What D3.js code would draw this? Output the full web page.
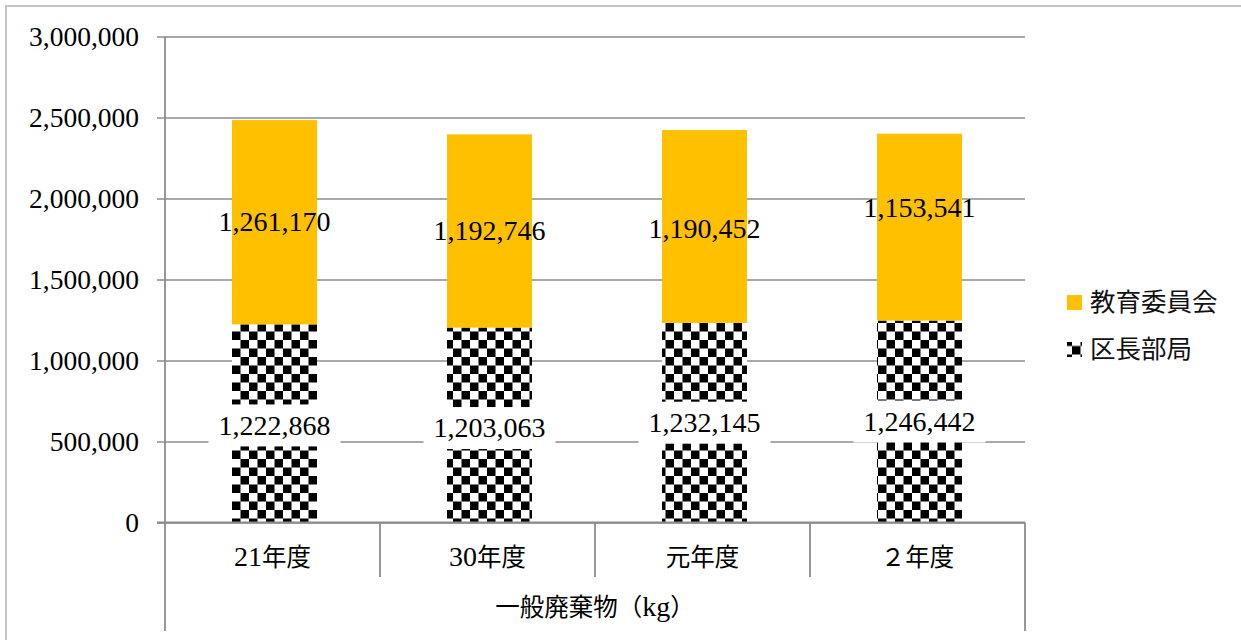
<!DOCTYPE html>
<html><head><meta charset="utf-8">
<script src="https://cdn.jsdelivr.net/npm/d3@7"></script>
<style>body{margin:0;background:#fff}svg{display:block}</style>
</head><body>
<svg id="c" width="1241" height="640"></svg>
<script>
const categories = ["21年度", "30年度", "元年度", "２年度"];
const groupLabel = "一般廃棄物（kg）";
const seriesNames = ["区長部局", "教育委員会"];
const kuchoValues = [1222868, 1203063, 1232145, 1246442];
const kyoikuValues = [1261170, 1192746, 1190452, 1153541];
const yTicks = [0, 500000, 1000000, 1500000, 2000000, 2500000, 3000000];

const svg = d3.select("#c");
const W = 1241, H = 640;
const plot = {l: 165, r: 1025, t: 36.5, b: 522.5};
const numFont = "'Liberation Serif', 'Noto Sans CJK JP', serif";
const cjkFont = "'Noto Sans CJK JP', sans-serif";
const gridCol = "#8c8c8c";
const orange = "#FFC000";

// chart border
svg.append("rect").attr("x", 6).attr("y", 6).attr("width", W).attr("height", H)
  .attr("fill", "#fff").attr("stroke", "#c4c4c4").attr("stroke-width", 2);

const defs = svg.append("defs");
function checker(id, ox, oy, s) {
  const p = defs.append("pattern").attr("id", id).attr("patternUnits", "userSpaceOnUse")
    .attr("x", ox).attr("y", oy).attr("width", 2 * s).attr("height", 2 * s);
  p.append("rect").attr("width", 2 * s).attr("height", 2 * s).attr("fill", "#fff");
  p.append("rect").attr("x", s).attr("y", 0).attr("width", s).attr("height", s).attr("fill", "#000");
  p.append("rect").attr("x", 0).attr("y", s).attr("width", s).attr("height", s).attr("fill", "#000");
}
checker("chk", 232, 323, 8.5);
checker("chkLeg", 1055, 337.5, 8.5);

const y = d3.scaleLinear().domain([0, 3000000]).range([plot.b, plot.t]);
const x = d3.scaleBand().domain(categories).range([plot.l + 2, plot.r + 2]).paddingInner(0.6047).paddingOuter(0.3023);
const xOuter = d3.scaleBand().domain(categories).range([plot.l, plot.r]);

// gridlines + y axis
const yAxis = d3.axisLeft(y).tickValues(yTicks).tickSize(plot.r - plot.l + 8)
  .tickFormat(d3.format(","));
const gy = svg.append("g").attr("transform", `translate(${plot.r},0)`).call(yAxis);
gy.select(".domain").remove();
gy.selectAll(".tick line").attr("stroke", gridCol).attr("stroke-width", 1.6);
gy.selectAll(".tick text").attr("x", -(plot.r - plot.l) - 26).attr("font-family", numFont)
  .attr("font-size", 27.5).attr("fill", "#000").attr("dy", "0.33em");

// vertical axis lines
svg.append("line").attr("x1", plot.l).attr("x2", plot.l).attr("y1", plot.t).attr("y2", 631)
  .attr("stroke", gridCol).attr("stroke-width", 1.8);
svg.append("line").attr("x1", plot.r).attr("x2", plot.r).attr("y1", plot.b).attr("y2", 631)
  .attr("stroke", gridCol).attr("stroke-width", 1.8);
// category separators
categories.slice(1).forEach(c => {
  svg.append("line").attr("x1", xOuter(c)).attr("x2", xOuter(c)).attr("y1", plot.b).attr("y2", 577)
    .attr("stroke", gridCol).attr("stroke-width", 1.8);
});

// stacked data
const rows = categories.map((c, i) => ({cat: c, "区長部局": kuchoValues[i], "教育委員会": kyoikuValues[i]}));
const stack = d3.stack().keys(seriesNames)(rows);

const bars = svg.append("g");
stack.forEach((s, si) => {
  bars.selectAll(null).data(s).join("rect")
    .attr("x", d => x(d.data.cat)).attr("width", x.bandwidth())
    .attr("y", d => y(d[1])).attr("height", d => y(d[0]) - y(d[1]))
    .attr("fill", si === 0 ? "url(#chk)" : orange);
});

// x axis line
svg.append("line").attr("x1", plot.l - 8).attr("x2", plot.r).attr("y1", plot.b).attr("y2", plot.b)
  .attr("stroke", gridCol).attr("stroke-width", 1.8);

// data labels
const labelDy = [[2, 3, 0, 0], [0, 0, 2, -19]];
stack.forEach((s, si) => {
  s.forEach((d, i) => {
    const cx = x(d.data.cat) + x.bandwidth() / 2;
    const cy = (y(d[0]) + y(d[1])) / 2 + labelDy[si][i];
    const g = svg.append("g");
    const t = g.append("text").attr("x", cx).attr("y", cy).attr("text-anchor", "middle")
      .attr("dy", "0.33em").attr("font-family", numFont).attr("font-size", 28).attr("fill", "#000")
      .text(d3.format(",")(d[1] - d[0]));
    if (si === 0) {
      const bb = t.node().getBBox();
      g.insert("rect", "text").attr("x", cx - bb.width / 2 - 10).attr("y", cy - 21)
        .attr("width", bb.width + 20).attr("height", 42).attr("fill", "#fff");
    }
  });
});

// category labels: digits in serif, CJK in Noto
function mixed(sel, str, numSize, cjkSize) {
  const parts = str.match(/[0-9A-Za-z]+|[^0-9A-Za-z]+/g);
  parts.forEach(p => {
    const ascii = /^[0-9A-Za-z]+$/.test(p);
    sel.append("tspan").attr("font-family", ascii ? numFont : cjkFont)
      .attr("font-size", ascii ? numSize : cjkSize).text(p);
  });
}
categories.forEach(c => {
  const t = svg.append("text").attr("x", xOuter(c) + xOuter.bandwidth() / 2).attr("y", 566)
    .attr("text-anchor", "middle").attr("fill", "#000");
  mixed(t, c, 28, 24.5);
});
const gt = svg.append("text").attr("x", (plot.l + plot.r) / 2).attr("y", 616)
  .attr("text-anchor", "middle").attr("fill", "#000");
mixed(gt, groupLabel, 28, 24.5);

// legend
const leg = [{name: "教育委員会", fill: orange, y: 302}, {name: "区長部局", fill: "url(#chkLeg)", y: 349}];
leg.forEach(l => {
  svg.append("rect").attr("x", 1067).attr("y", l.y - 7).attr("width", 15).attr("height", 15).attr("fill", l.fill);
  svg.append("text").attr("x", 1090).attr("y", l.y).attr("dy", "0.35em")
    .attr("font-family", cjkFont).attr("font-size", 25.5)
    .attr("fill", "#111").text(l.name);
});
</script>
</body></html>
